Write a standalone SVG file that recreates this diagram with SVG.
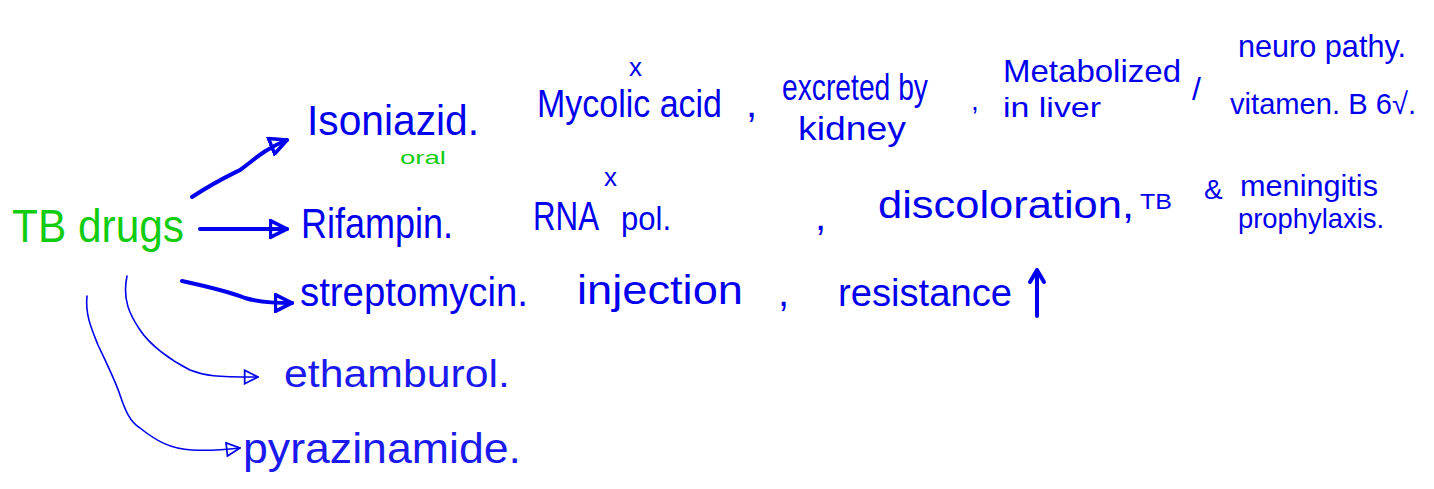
<svg xmlns="http://www.w3.org/2000/svg" width="1434" height="489" viewBox="0 0 1434 489">
<style>
.b{fill:#0000ee;font-family:"Liberation Sans",Arial,sans-serif}
.g{fill:#11cc11;font-family:"Liberation Sans",Arial,sans-serif}
.thin{fill:#1a1aee;font-family:"Liberation Sans",Arial,sans-serif}
.c{fill:none;stroke:#0000ee;stroke-linecap:round;stroke-linejoin:round}
.w{stroke-width:4}
.t{stroke-width:1.6}
</style>
<defs>
<marker id="ah2" viewBox="0 0 12 12" refX="11" refY="6" markerWidth="16" markerHeight="16" orient="auto" markerUnits="userSpaceOnUse">
<path d="M1,1 L11,6 L1,11 Z" fill="none" stroke="#0000ee" stroke-width="1.3"/>
</marker>
<marker id="ah1" viewBox="0 0 12 12" refX="11" refY="6" markerWidth="20" markerHeight="20" orient="auto" markerUnits="userSpaceOnUse">
<path d="M1,1 L11,6 L1,11 Z" fill="none" stroke="#0000ee" stroke-width="2.2"/>
</marker>
</defs>
<rect width="1434" height="489" fill="#ffffff"/>
<g id="connectors">
<path class="c w" d="M192,197 C215,182 230,175 240,170 C252,162 262,150 287,140" marker-end="url(#ah1)"/>
<path class="c w" d="M200,229 L287,229" marker-end="url(#ah1)"/>
<path class="c w" d="M182,281 C205,286 230,292 245,298 C258,302 270,303 292,303" marker-end="url(#ah1)"/>
<path class="c t" d="M127,276 C122,300 130,315 140,330 C150,345 170,360 190,370 C205,376 215,377 258,377" marker-end="url(#ah2)"/>
<path class="c t" d="M87,296 C85,315 92,330 98,345 C105,360 115,380 120,395 C125,410 130,422 140,428 C155,440 170,449 192,450 C210,451 222,450 240,448" marker-end="url(#ah2)"/>
</g>
<g id="tb-drugs"><text class="g" x="12" y="242" font-size="46" textLength="172" lengthAdjust="spacingAndGlyphs">TB drugs</text></g>
<g id="isoniazid">
<text class="b" x="307" y="135" font-size="42" textLength="172" lengthAdjust="spacingAndGlyphs">Isoniazid.</text>
<text class="g" x="400" y="164" font-size="19" textLength="46" lengthAdjust="spacingAndGlyphs">oral</text>
<text class="b" x="629" y="76" font-size="26">x</text>
<text class="b" x="537" y="117" font-size="38" textLength="185" lengthAdjust="spacingAndGlyphs">Mycolic acid</text>
<text class="b" x="746" y="117" font-size="40">,</text>
<text class="b" x="782" y="100" font-size="36" textLength="146" lengthAdjust="spacingAndGlyphs">excreted by</text>
<text class="b" x="798" y="140" font-size="34" textLength="108" lengthAdjust="spacingAndGlyphs">kidney</text>
<text class="b" x="971" y="110" font-size="28">,</text>
<text class="b" x="1003" y="82" font-size="32" textLength="178" lengthAdjust="spacingAndGlyphs">Metabolized</text>
<text class="b" x="1003" y="117" font-size="28" textLength="98" lengthAdjust="spacingAndGlyphs">in liver</text>
<text class="b" x="1192" y="100" font-size="32">/</text>
<text class="b" x="1238" y="57" font-size="32" textLength="168" lengthAdjust="spacingAndGlyphs">neuro pathy.</text>
<text class="b" x="1230" y="114" font-size="30" textLength="186" lengthAdjust="spacingAndGlyphs">vitamen. B 6√.</text>
</g>
<g id="rifampin">
<text class="b" x="301" y="238" font-size="42" textLength="152" lengthAdjust="spacingAndGlyphs">Rifampin.</text>
<text class="b" x="533" y="230" font-size="40" textLength="66" lengthAdjust="spacingAndGlyphs">RNA</text>
<text class="b" x="604" y="186" font-size="26">x</text>
<text class="b" x="621" y="230" font-size="34" textLength="50" lengthAdjust="spacingAndGlyphs">pol.</text>
<text class="b" x="815" y="230" font-size="40">,</text>
<text class="b" x="878" y="218" font-size="38" textLength="256" lengthAdjust="spacingAndGlyphs">discoloration,</text>
<text class="b" x="1140" y="209" font-size="22" textLength="32" lengthAdjust="spacingAndGlyphs">TB</text>
<text class="b" x="1204" y="199" font-size="28">&amp;</text>
<text class="b" x="1240" y="196" font-size="30" textLength="138" lengthAdjust="spacingAndGlyphs">meningitis</text>
<text class="b" x="1238" y="228" font-size="28" textLength="146" lengthAdjust="spacingAndGlyphs">prophylaxis.</text>
</g>
<g id="streptomycin">
<text class="b" x="300" y="306" font-size="40" textLength="228" lengthAdjust="spacingAndGlyphs">streptomycin.</text>
<text class="b" x="577" y="304" font-size="40" textLength="166" lengthAdjust="spacingAndGlyphs">injection</text>
<text class="b" x="778" y="306" font-size="40">,</text>
<text class="b" x="838" y="306" font-size="38" textLength="174" lengthAdjust="spacingAndGlyphs">resistance</text>
<path class="c w" d="M1037,316 L1037,270 M1030,282 L1037,270 L1044,282"/>
</g>
<g id="ethamburol"><text class="thin" x="284" y="387" font-size="38" textLength="226" lengthAdjust="spacingAndGlyphs">ethamburol.</text></g>
<g id="pyrazinamide"><text class="thin" x="243" y="463" font-size="42" textLength="278" lengthAdjust="spacingAndGlyphs">pyrazinamide.</text></g>
</svg>
